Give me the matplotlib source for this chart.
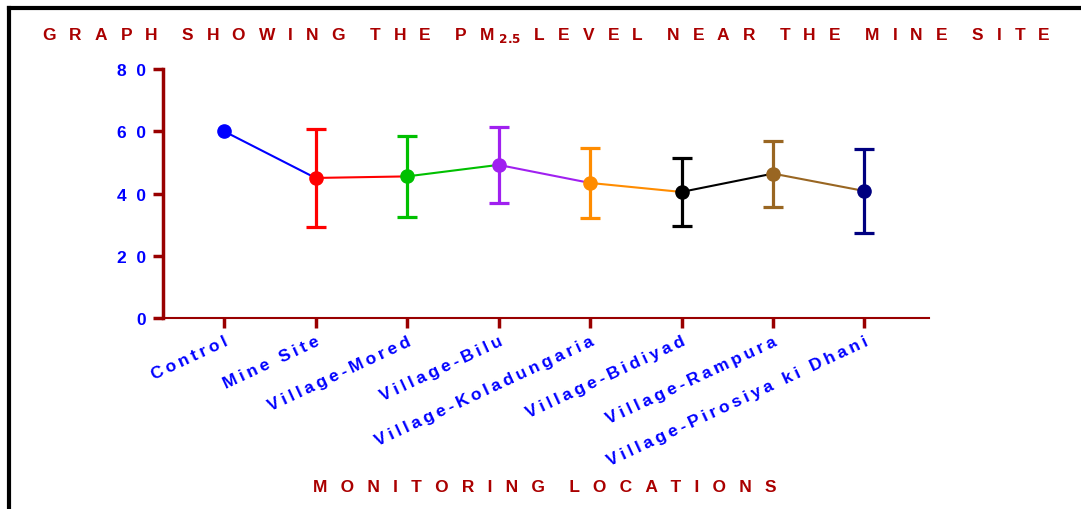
import numpy as np
import matplotlib.pyplot as plt
from matplotlib.lines import Line2D

# data
locations = ['Control', 'Mine Site', 'Village-Mored', 'Village-Bilu',
             'Village-Koladungaria', 'Village-Bidiyad', 'Village-Rampura',
             'Village-Pirosiya ki Dhani']
pm25_mean = [60.0, 45.0, 45.5, 49.2, 43.4, 40.5, 46.4, 40.8]
pm25_err = [0.0, 15.7, 13.0, 12.2, 11.3, 11.0, 10.6, 13.5]
colors = ['#0000FF', '#FF0000', '#00C000', '#A020F0', '#FF8C00',
          '#000000', '#996622', '#000080']
yticks = [0, 20, 40, 60, 80]

dark_red = '#990000'


def spaced(s, gap='\u2009', word_gap=None):
    if word_gap is None:
        return gap.join(s)
    return word_gap.join(gap.join(w) for w in s.split(' '))


plt.rcParams['font.family'] = ['Liberation Sans', 'DejaVu Sans']

fig = plt.figure(figsize=(10.81, 5.10), dpi=100)
ax = fig.add_axes([0.1508, 0.3745, 0.709, 0.4882])

x = np.arange(len(locations))
# line segments take the colour of the starting point
for i in range(len(x) - 1):
    ax.plot(x[i:i + 2], pm25_mean[i:i + 2], color=colors[i], lw=1.5, zorder=2)
for i in range(len(x)):
    if pm25_err[i] > 0:
        ax.errorbar(x[i], pm25_mean[i], yerr=pm25_err[i], color=colors[i],
                    elinewidth=2.3, capsize=7, capthick=2.3, zorder=3)
    ax.plot(x[i], pm25_mean[i], 'o', color=colors[i], ms=9.5, zorder=4)

ax.set_xlim(-0.667, 7.71)
ax.set_ylim(0, 80)
ax.set_yticks(yticks)
ax.set_yticklabels([spaced(str(v), '  ') for v in yticks], color='#0000FF',
                   fontweight='bold', fontsize=12.5)
ax.set_xticks(x)
ax.set_xticklabels([spaced(s, '\u2009') for s in locations], rotation=25,
                   ha='right', va='top', rotation_mode='anchor',
                   color='#0000FF', fontweight='bold', fontsize=12.5)

for side in ['top', 'right']:
    ax.spines[side].set_visible(False)
ax.spines['left'].set_color(dark_red)
ax.spines['left'].set_linewidth(2.5)
ax.spines['bottom'].set_color(dark_red)
ax.spines['bottom'].set_linewidth(1.5)
ax.tick_params(axis='y', color=dark_red, width=2.5, length=7, pad=5)
ax.tick_params(axis='x', color=dark_red, width=2.5, length=7, pad=4)

g = '  \u2009'
wg = '     '
title = (spaced('GRAPH SHOWING THE PM', g, wg)
         + ' $_{\\mathbf{2 . 5}}$' + g
         + spaced('LEVEL NEAR THE MINE SITE', g, wg))
fig.text(0.505, 0.93, title, ha='center', va='center', color='#AA0000',
         fontweight='bold', fontsize=12.5)
fig.text(0.504, 0.045, spaced('MONITORING LOCATIONS', g, wg),
         ha='center', va='center', color='#AA0000', fontweight='bold',
         fontsize=12.5)

# black frame lines at top and left
fig.add_artist(Line2D([0.008, 1.0], [0.982, 0.982], color='black', lw=3,
                      transform=fig.transFigure))
fig.add_artist(Line2D([0.0085, 0.0085], [0.0, 0.982], color='black', lw=3,
                      transform=fig.transFigure))

fig.savefig('out.png', dpi=100)
